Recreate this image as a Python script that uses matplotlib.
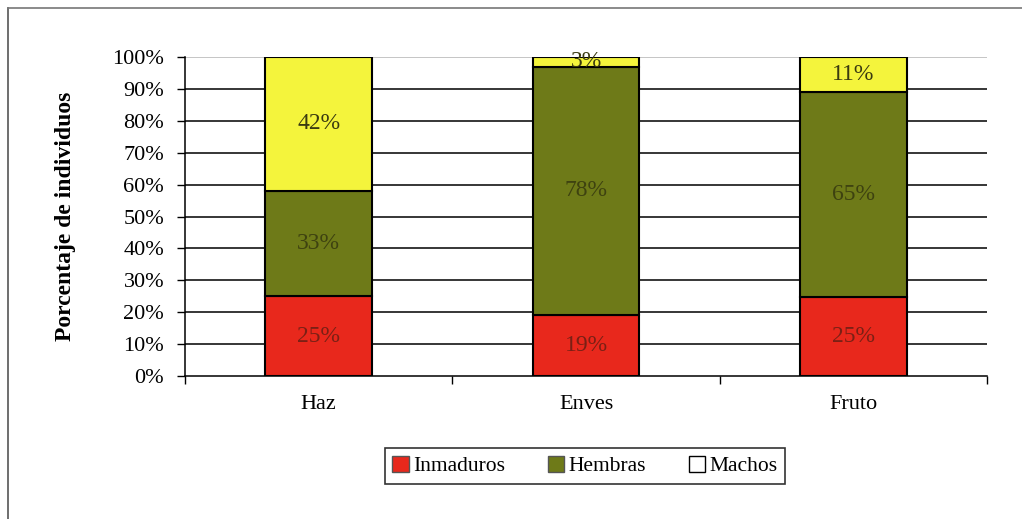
import matplotlib
matplotlib.use("Agg")
import matplotlib.pyplot as plt
import numpy as np
from matplotlib.patches import Patch
from matplotlib.lines import Line2D

plt.rcParams['font.family'] = ['Liberation Serif', 'DejaVu Serif']

categories = ["Haz", "Enves", "Fruto"]
inmaduros = [25, 19, 25]
hembras = [33, 78, 65]
machos = [42, 3, 11]
series_names = ["Inmaduros", "Hembras", "Machos"]
yticks = [0, 10, 20, 30, 40, 50, 60, 70, 80, 90, 100]

colors = ["#e8281c", "#6e7a18", "#f4f43c"]
label_colors = ["#7a2015", "#3e4210", "#3a3a10"]

fig = plt.figure(figsize=(10.22, 5.19), dpi=100)
ax = fig.add_axes([185/1022, 1-376/519, (987-185)/1022, (376-57)/519])

data = np.array([inmaduros, hembras, machos], dtype=float)
totals = data.sum(axis=0)
norm = data / totals * 100
x = np.arange(len(categories))
bottom = np.zeros(len(categories))
for i in range(3):
    ax.bar(x, norm[i], 0.4, bottom=bottom, color=colors[i], edgecolor="black",
           linewidth=1.5, zorder=3)
    for j in range(len(categories)):
        ax.text(x[j], bottom[j] + norm[i][j] / 2, f"{int(data[i][j])}%",
                ha="center", va="center", fontsize=17, color=label_colors[i],
                zorder=4)
    bottom += norm[i]

ax.set_xlim(-0.5, 2.5)
ax.set_ylim(0, 100)
ax.set_yticks(yticks)
ax.set_yticklabels([f"{v}%" for v in yticks], fontsize=16)
for v in yticks[1:-1]:
    ax.axhline(v, color="black", linewidth=1.1, zorder=1)
ax.axhline(100, color="#bbbbbb", linewidth=1.2, zorder=1)
ax.set_xticks(x)
ax.set_xticklabels(categories, fontsize=16)
ax.tick_params(axis="x", which="major", length=0, pad=14)
ax.set_xticks([-0.5, 0.5, 1.5, 2.5], minor=True)
ax.tick_params(axis="x", which="minor", length=6, direction="out", width=1)
ax.tick_params(axis="y", length=6, direction="out", width=1, pad=9)
for s in ["top", "right"]:
    ax.spines[s].set_visible(False)
ax.spines["left"].set_linewidth(1.1)
ax.spines["bottom"].set_linewidth(1.1)
ax.set_ylabel("Porcentaje de individuos", fontsize=17, fontweight="bold", labelpad=26)

handles = [Patch(facecolor=colors[0], edgecolor="#555555"),
           Patch(facecolor=colors[1], edgecolor="#555555"),
           Patch(facecolor="white", edgecolor="black")]
leg = fig.legend(handles, series_names, loc="center", bbox_to_anchor=(585/1022, 1-466/519),
                 ncol=3, fontsize=15.5, frameon=True, fancybox=False, edgecolor="black",
                 handlelength=0.75, handleheight=0.75, handletextpad=0.2, columnspacing=2.0,
                 borderpad=0.35)
leg.get_frame().set_linewidth(1.2)

fig.add_artist(Line2D([8/1022, 8/1022], [0, 1-8/519], color="#555555", linewidth=1.2,
                      transform=fig.transFigure))
fig.add_artist(Line2D([8/1022, 1], [1-8/519, 1-8/519], color="#777777", linewidth=1.2,
                      transform=fig.transFigure))

fig.savefig("out.png", dpi=100)
